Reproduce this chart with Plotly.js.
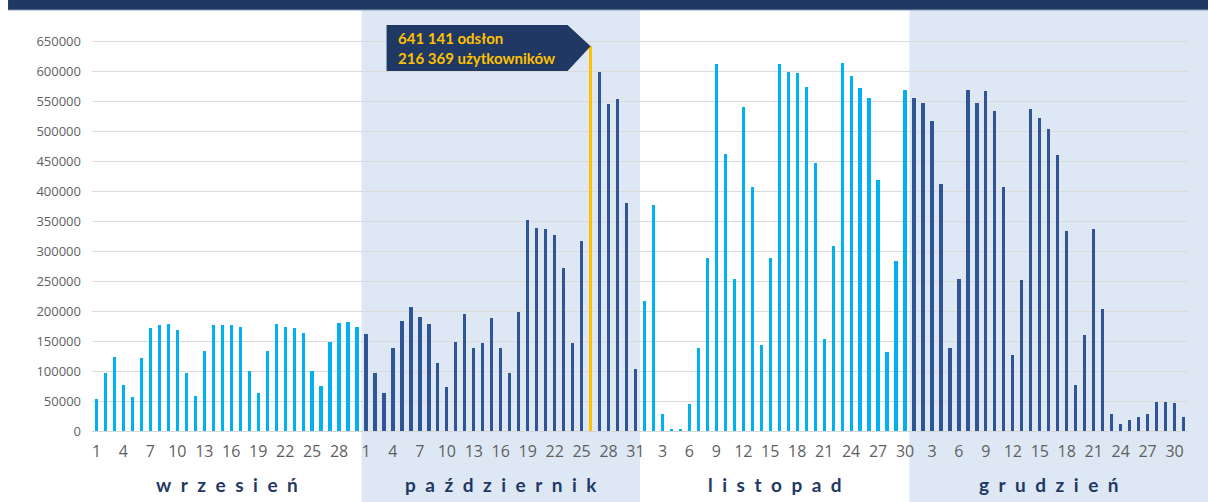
<!DOCTYPE html>
<html>
<head>
<meta charset="utf-8">
<script src="https://cdn.plot.ly/plotly-3.0.1.min.js"></script>
<style>
html,body{margin:0;padding:0;background:#fff;}
#chart{width:1208px;height:502px;}
</style>
</head>
<body>
<div id="chart"></div>
<script>
// ---- data ----
const monthNames = ["wrzesień", "październik", "listopad", "grudzień"];
const sepValues = [54000, 97000, 124000, 77000, 56000, 122000, 171000, 176000, 179000, 169000, 96000, 59000, 133000, 177000, 176000, 176000, 173000, 100000, 64000, 133000, 179000, 174000, 171000, 164000, 100000, 75000, 149000, 180000, 182000, 173000];
const octValues = [162000, 96000, 64000, 138000, 184000, 207000, 190000, 179000, 113000, 73000, 149000, 195000, 138000, 146000, 188000, 139000, 97000, 199000, 352000, 338000, 337000, 326000, 271000, 147000, 317000, 641141, 599000, 545000, 553000, 380000, 103000];
const novValues = [216000, 376000, 28000, 4000, 3000, 45000, 138000, 289000, 612000, 462000, 254000, 540000, 406000, 143000, 288000, 612000, 599000, 596000, 573000, 446000, 154000, 309000, 614000, 591000, 572000, 555000, 419000, 131000, 283000, 569000];
const decValues = [555000, 547000, 516000, 411000, 138000, 253000, 569000, 547000, 566000, 534000, 406000, 127000, 251000, 537000, 521000, 504000, 460000, 334000, 77000, 160000, 336000, 204000, 28000, 12000, 18000, 23000, 29000, 48000, 48000, 47000, 23000];
const peakUsers = "216 369";
const yTickValues = [0, 50000, 100000, 150000, 200000, 250000, 300000, 350000, 400000, 450000, 500000, 550000, 600000, 650000];

// ---- styles ----
const LIGHT = "#00b0f0", DARK = "#2f5597", PEAK = "#ffc000", NAVY = "#1f3864", SHADE = "#dde8f4";

const months = [sepValues, octValues, novValues, decValues];
const x = [], y = [], colors = [], dayNums = [];
const monthStart = [];
let idx = 0;
months.forEach((vals, m) => {
  monthStart.push(idx);
  vals.forEach((v, d) => {
    x.push(idx); y.push(v); dayNums.push(d + 1);
    colors.push(m % 2 === 0 ? LIGHT : DARK);
    idx++;
  });
});
monthStart.push(idx);
const total = idx;
let peakIdx = 0;
y.forEach((v, i) => { if (v > y[peakIdx]) peakIdx = i; });
colors[peakIdx] = PEAK;
const peakVal = y[peakIdx];

const tickvals = [], ticktext = [];
for (let i = 0; i < total; i += 3) { tickvals.push(i); ticktext.push(String(dayNums[i])); }

function fmtSpace(n) { return String(n).replace(/\B(?=(\d{3})+(?!\d))/g, " "); }

const shapes = [];
const annotations = [];
// shaded months (odd ones)
const yBotPaper = -0.1727, yTopPaper = 1.0243;
months.forEach((vals, m) => {
  if (m % 2 === 1) {
    shapes.push({type: "rect", layer: "below", xref: "x", yref: "paper",
      x0: monthStart[m] - 0.5, x1: monthStart[m + 1] - 0.5, y0: yBotPaper, y1: yTopPaper,
      fillcolor: SHADE, line: {width: 0}});
  }
});
// extension of last shade into right margin
shapes.push({type: "rect", layer: "below", xref: "paper", yref: "paper",
  x0: 1, x1: 1.03, y0: yBotPaper, y1: yTopPaper, fillcolor: SHADE, line: {width: 0}});
// top navy strip
shapes.push({type: "rect", layer: "above", xref: "paper", yref: "paper",
  x0: -0.0766, x1: 1.03, y0: 1.0243, y1: 1.06, fillcolor: NAVY, line: {width: 0}});
shapes.push({type: "line", layer: "above", xref: "paper", yref: "paper",
  x0: -0.0766, x1: 1.03, y0: 1.0243, y1: 1.0243, line: {color: "#8a9bb8", width: 1}});

// callout box
const tipX = peakIdx, tipY = peakVal;
const bx1 = tipX - 2.56, bx0 = bx1 - 20.15;
const byTop = 676700, byBot = 600000;
shapes.push({type: "path", layer: "above", xref: "x", yref: "y",
  path: `M ${bx0},${byTop} L ${bx1},${byTop} L ${tipX},${tipY} L ${bx1},${byBot} L ${bx0},${byBot} Z`,
  fillcolor: NAVY, line: {width: 0}});
annotations.push({xref: "x", yref: "y", x: bx0, y: (byTop + byBot) / 2, xanchor: "left", yanchor: "middle",
  xshift: 9, showarrow: false, align: "left",
  text: `<b>${fmtSpace(peakVal)} odsłon<br>${peakUsers} użytkowników</b>`,
  font: {family: "Lato, 'Open Sans', sans-serif", size: 15, color: PEAK}});

// month labels
monthNames.forEach((name, m) => {
  annotations.push({xref: "x", yref: "paper", x: (monthStart[m] + monthStart[m + 1] - 1) / 2, y: -0.129,
    xanchor: "center", yanchor: "middle", showarrow: false,
    text: "<b>" + Array.from(name).join("\u2002") + "</b>",
    font: {family: "Lato, 'Open Sans', sans-serif", size: 19, color: NAVY}});
});

const trace = {type: "bar", x: x, y: y, width: 0.36,
  marker: {color: colors, line: {width: 0}}, hoverinfo: "skip"};

const layout = {
  width: 1208, height: 502,
  margin: {l: 92, r: 20, t: 20, b: 71},
  paper_bgcolor: "#ffffff", plot_bgcolor: "rgba(0,0,0,0)",
  showlegend: false,
  bargap: 0,
  xaxis: {range: [-0.5, total - 0.5], tickmode: "array", tickvals: tickvals, ticktext: ticktext,
    showgrid: false, zeroline: false, showline: false, ticks: "", ticklabelstandoff: 9,
    tickfont: {family: "'Open Sans', sans-serif", size: 16, color: "#5f5f5f"}},
  yaxis: {range: [0, 685000], tickmode: "array", tickvals: yTickValues, tickformat: "d",
    showgrid: true, gridcolor: "#dadada", gridwidth: 1, zeroline: true, zerolinecolor: "#d6d6d6", zerolinewidth: 1,
    showline: false, ticks: "", ticklabelstandoff: 10,
    tickfont: {family: "'Open Sans', sans-serif", size: 13, color: "#5f5f5f"}},
  shapes: shapes, annotations: annotations
};

Plotly.newPlot("chart", [trace], layout, {displayModeBar: false, staticPlot: true});
</script>
</body>
</html>
